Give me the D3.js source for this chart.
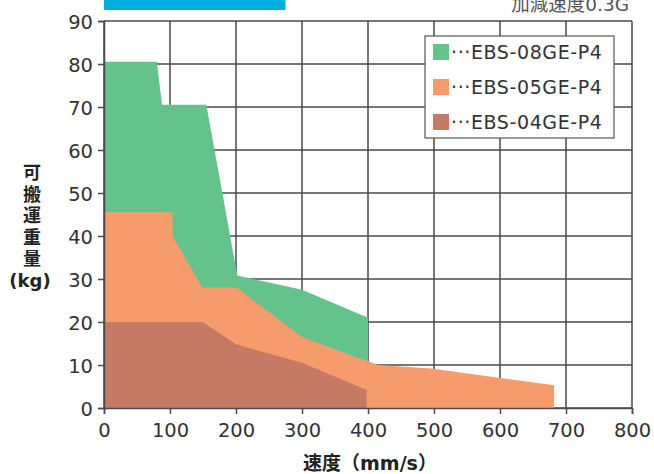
<!DOCTYPE html>
<html><head><meta charset="utf-8">
<script src="https://cdn.jsdelivr.net/npm/d3@7"></script>
<style>body{margin:0;background:#fff}svg{display:block}</style>
</head><body>
<svg id="c" width="654" height="474"></svg>
<script>
const seriesNames = ["EBS-08GE-P4","EBS-05GE-P4","EBS-04GE-P4"];
const seriesColors = ["#64c28b","#f69b6c","#c57a66"];
const speeds08 = [0,80,88,155,202,300,400];
const loads08  = [80.5,80.5,70.5,70.5,30.8,27.5,21];
const speeds05 = [0,104,104,149,201,300,405,415,495,682];
const loads05  = [45.5,45.5,40,28,28,16.5,10.6,10,9.2,5.3];
const speeds04 = [0,149,200,300,398];
const loads04  = [20,20,14.8,10.5,4.2];
const xTicks = [0,100,200,300,400,500,600,700,800];
const yTicks = [0,10,20,30,40,50,60,70,80,90];
const yTitleChars = ["可","搬","運","重","量","(kg)"];

const svg = d3.select("#c");
const font = "'DejaVu Sans','Noto Sans CJK JP',sans-serif";
const x = d3.scaleLinear().domain([0,800]).range([104,632]);
const y = d3.scaleLinear().domain([0,90]).range([408,21]);

// header
svg.append("rect").attr("x",x(0)).attr("y",0).attr("width",x(275)-x(0)).attr("height",10).attr("fill","#00aede");
svg.append("text").attr("x",629).attr("y",11).attr("text-anchor","end")
  .attr("font-family",font).attr("font-size",18.5).attr("fill","#555").text("加減速度0.3G");

// grid
const g = svg.append("g");
g.selectAll("line.v").data(xTicks).join("line")
  .attr("x1",d=>x(d)).attr("x2",d=>x(d)).attr("y1",y(90)).attr("y2",y(0))
  .attr("stroke","#4a4a4a").attr("stroke-width",1.5);
g.selectAll("line.h").data(yTicks).join("line")
  .attr("y1",d=>y(d)).attr("y2",d=>y(d)).attr("x1",x(0)).attr("x2",x(800))
  .attr("stroke","#4a4a4a").attr("stroke-width",1.5);

// areas
const series = [
  speeds08.map((s,i)=>[s,loads08[i]]),
  speeds05.map((s,i)=>[s,loads05[i]]),
  speeds04.map((s,i)=>[s,loads04[i]])
];
const area = d3.area().x(d=>x(d[0])).y0(y(0)).y1(d=>y(d[1]));
series.forEach((s,i)=>{
  svg.append("path").attr("d",area(s)).attr("fill",seriesColors[i]);
});

// axes
const xAxis = svg.append("g").attr("transform",`translate(0,${y(0)})`)
  .call(d3.axisBottom(x).tickValues(xTicks).tickSize(6).tickPadding(6));
const yAxis = svg.append("g").attr("transform",`translate(${x(0)},0)`)
  .call(d3.axisLeft(y).tickValues(yTicks).tickSize(6).tickPadding(5));
[xAxis,yAxis].forEach(a=>{
  a.selectAll("path,line").attr("stroke","#4a4a4a").attr("stroke-width",1.5);
  a.selectAll("text").attr("font-family",font).attr("font-size",19.5).attr("fill","#333");
});
xAxis.selectAll("text").attr("dy","0.85em");
yAxis.selectAll("text").attr("dy","0.36em");

// axis titles
svg.append("text").attr("x",370).attr("y",470).attr("text-anchor","middle")
  .attr("font-family",font).attr("font-size",19).attr("font-weight","bold").attr("fill","#222")
  .text("速度（mm/s）");
const yt = svg.append("g").attr("font-family",font).attr("font-size",18)
  .attr("font-weight","bold").attr("fill","#222").attr("text-anchor","middle");
yTitleChars.forEach((c,i)=>{
  yt.append("text").attr("x",i===5?30:32).attr("y",179+i*21.5).text(c);
});

// legend
const lg = svg.append("g");
lg.append("rect").attr("x",425).attr("y",36).attr("width",189).attr("height",102)
  .attr("fill","#fff").attr("stroke","#555").attr("stroke-width",1.2);
seriesNames.forEach((n,i)=>{
  const cy = 52 + i*35;
  lg.append("rect").attr("x",433).attr("y",cy-8).attr("width",16).attr("height",16).attr("fill",seriesColors[i]);
  lg.append("text").attr("x",451).attr("y",cy).attr("dy","0.36em")
    .attr("font-family",font).attr("font-size",19).attr("letter-spacing",0.6)
    .attr("fill","#333").text("···"+n);
});
</script>
</body></html>
